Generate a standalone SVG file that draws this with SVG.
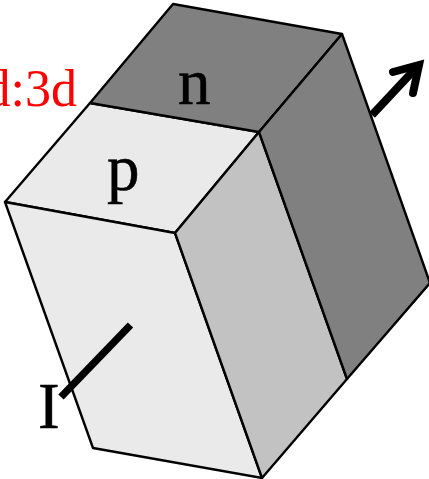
<svg xmlns="http://www.w3.org/2000/svg" width="429" height="479" viewBox="0 0 429 479">
<style>
.f{stroke:#000;stroke-width:2.4;stroke-linejoin:round}
.t{font-family:"Liberation Serif","Times New Roman",serif;font-size:65px;fill:#000;stroke:#000;stroke-width:.5}
</style>
<rect width="429" height="479" fill="#fff"/>
<g id="face-p-top"><polygon class="f" fill="#eaeaea" points="5,202 90,103 259,132 175,233"/></g>
<g id="face-n-top"><polygon class="f" fill="#808080" points="90,103 173,4 342,34 259,132"/></g>
<g id="face-front"><polygon class="f" fill="#eaeaea" points="5,202 175,233 262,478 93,448"/></g>
<g id="face-p-side"><polygon class="f" fill="#c2c2c2" points="175,233 259,132 347,379 262,478"/></g>
<g id="face-n-side"><polygon class="f" fill="#808080" points="259,132 342,34 430,283 347,379"/></g>
<g id="connectors" fill="none" stroke="#000">
<path d="M372 115L416 68" stroke-width="8"/>
<path d="M393 72L419 65L413 93" stroke-width="8" stroke-linecap="round" stroke-linejoin="miter" stroke-miterlimit="8"/>
<path d="M61 397L130.500 325" stroke-width="7.500"/>
</g>
<g id="label-ratio"><text x="77" y="106" text-anchor="end" font-family="Liberation Serif, Times New Roman, serif" font-size="52" fill="#f00">d:3d</text></g>
<g id="label-n"><text class="t" x="178" y="104">n</text></g>
<g id="label-p"><text class="t" x="107" y="190">p</text></g>
<g id="label-I"><text class="t" x="38" y="428">I</text></g>
</svg>
